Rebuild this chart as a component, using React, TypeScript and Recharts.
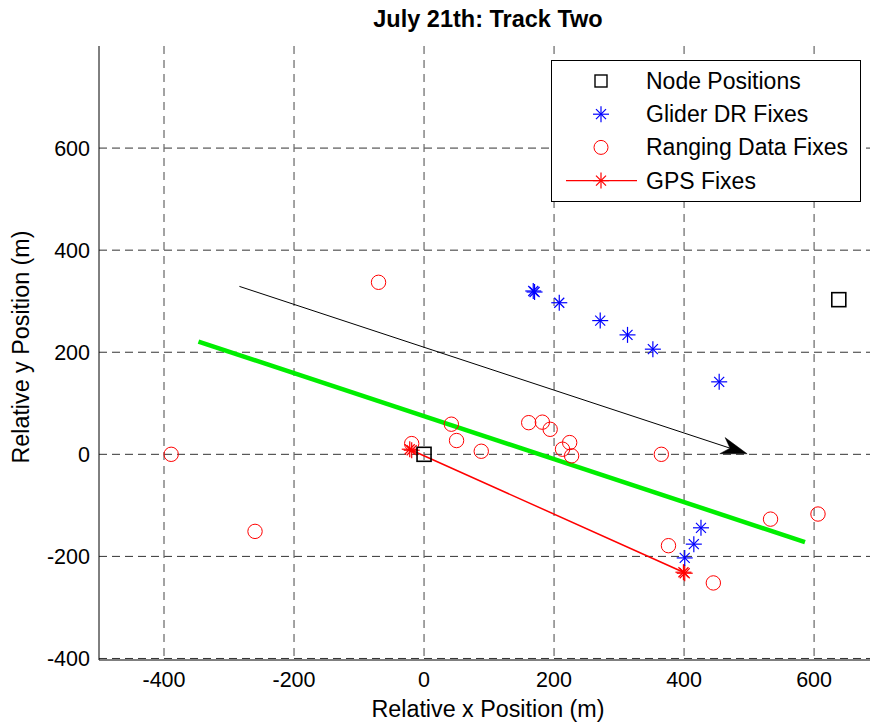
import React from 'react';
import { ScatterChart, Scatter, XAxis, YAxis, CartesianGrid, ReferenceLine } from 'recharts';

const xTicks = [-400, -200, 0, 200, 400, 600];
const yTicks = [-400, -200, 0, 200, 400, 600];

const nodePositions = [
  { x: 0, y: 0 },
  { x: 638, y: 303 },
];

const gliderDR = [
  { x: 168, y: 320 },
  { x: 170, y: 318 },
  { x: 208, y: 297 },
  { x: 271, y: 262 },
  { x: 313, y: 234 },
  { x: 352, y: 206 },
  { x: 454, y: 142 },
  { x: 426, y: -144 },
  { x: 415, y: -176 },
  { x: 401, y: -203 },
];

const rangingFixes = [
  { x: -70, y: 337 },
  { x: -389, y: 0 },
  { x: -260, y: -151 },
  { x: -19, y: 21 },
  { x: 42, y: 59 },
  { x: 50, y: 27 },
  { x: 88, y: 6 },
  { x: 161, y: 62 },
  { x: 182, y: 63 },
  { x: 194, y: 49 },
  { x: 224, y: 23 },
  { x: 213, y: 10 },
  { x: 227, y: -3 },
  { x: 365, y: 0 },
  { x: 533, y: -127 },
  { x: 606, y: -117 },
  { x: 376, y: -179 },
  { x: 445, y: -252 },
];

const gpsFixes = [
  { x: -22, y: 10 },
  { x: -19, y: 8 },
  { x: 399, y: -231 },
  { x: 401, y: -233 },
];

const greenTrack = [
  { x: -347, y: 221 },
  { x: 586, y: -172 },
];

const arrowStart = { x: -284, y: 329 };
const arrowEnd = { x: 497, y: 1 };

const Star = ({ cx, cy, color }: any) => (
  <g stroke={color} strokeWidth={1.2} fill="none">
    <line x1={cx - 8} y1={cy} x2={cx + 8} y2={cy} />
    <line x1={cx} y1={cy - 8} x2={cx} y2={cy + 8} />
    <line x1={cx - 5} y1={cy - 5} x2={cx + 5} y2={cy + 5} />
    <line x1={cx - 5} y1={cy + 5} x2={cx + 5} y2={cy - 5} />
  </g>
);

const Square = ({ cx, cy }: any) => (
  <rect x={cx - 7} y={cy - 7} width={14} height={14} fill="none" stroke="#000" strokeWidth={1.6} />
);

const Circle = ({ cx, cy }: any) => (
  <circle cx={cx} cy={cy} r={7.2} fill="none" stroke="#ff0000" strokeWidth={1} />
);

const Nothing = () => <g />;

const ArrowShape = (props: any) => {
  const { x1, y1, x2, y2 } = props;
  const dx = x2 - x1;
  const dy = y2 - y1;
  const len = Math.sqrt(dx * dx + dy * dy);
  const ux = dx / len;
  const uy = dy / len;
  const nx = -uy;
  const ny = ux;
  const L = 26;
  const W = 8.5;
  const bx = x2 - L * ux;
  const by = y2 - L * uy;
  const ix = x2 - 18 * ux;
  const iy = y2 - 18 * uy;
  const pts = `${x2},${y2} ${bx + W * nx},${by + W * ny} ${ix},${iy} ${bx - W * nx},${by - W * ny}`;
  return (
    <g>
      <line x1={x1} y1={y1} x2={ix} y2={iy} stroke="#000" strokeWidth={1} />
      <polygon points={pts} fill="#000" stroke="#000" strokeWidth={0.5} />
    </g>
  );
};

const legendRows = [
  { label: 'Node Positions', kind: 'square' },
  { label: 'Glider DR Fixes', kind: 'blueStar' },
  { label: 'Ranging Data Fixes', kind: 'circle' },
  { label: 'GPS Fixes', kind: 'gps' },
];

export default function App() {
  const font = '"Liberation Sans", Arial, Helvetica, sans-serif';
  return (
    <div style={{ position: 'absolute', left: 0, top: 0, width: 870, height: 726, background: '#fff', fontFamily: font }}>
      <ScatterChart width={870} height={726} margin={{ top: 46, right: 0, bottom: 6, left: 39 }}>
        <CartesianGrid
          horizontal={true}
          vertical={false}
          horizontalValues={yTicks}
          stroke="#333"
          strokeDasharray="8 5"
        />
        <CartesianGrid
          horizontal={false}
          vertical={true}
          verticalValues={xTicks}
          stroke="#666"
          strokeWidth={1.2}
          strokeDasharray="8 6"
        />
        <XAxis
          type="number"
          dataKey="x"
          domain={[-500, 686]}
          ticks={xTicks}
          allowDataOverflow
          height={60}
          tickLine={false}
          tickSize={0}
          tickMargin={12}
          axisLine={{ stroke: '#000', strokeWidth: 1 }}
          tick={{ fontSize: 21.5, fill: '#000', fontFamily: font }}
        />
        <YAxis
          type="number"
          dataKey="y"
          domain={[-403, 800]}
          ticks={yTicks}
          allowDataOverflow
          width={60}
          tickLine={false}
          tickSize={0}
          tickMargin={9}
          axisLine={{ stroke: '#000', strokeWidth: 1 }}
          tick={{ fontSize: 21.5, fill: '#000', fontFamily: font }}
        />
        <ReferenceLine
          segment={[arrowStart, arrowEnd]}
          stroke="#000"
          shape={ArrowShape}
          ifOverflow="visible"
        />
        <Scatter
          data={greenTrack}
          line={{ stroke: '#00ee00', strokeWidth: 4.5 }}
          lineType="joint"
          shape={Nothing}
          isAnimationActive={false}
        />
        <Scatter
          data={gpsFixes}
          line={{ stroke: '#ff0000', strokeWidth: 1.5 }}
          lineType="joint"
          shape={(p: any) => <Star {...p} color="#ff0000" />}
          isAnimationActive={false}
        />
        <Scatter data={rangingFixes} shape={Circle} isAnimationActive={false} />
        <Scatter data={gliderDR} shape={(p: any) => <Star {...p} color="#0000ff" />} isAnimationActive={false} />
        <Scatter data={nodePositions} shape={Square} isAnimationActive={false} />
      </ScatterChart>
      <svg
        width={870}
        height={726}
        style={{ position: 'absolute', left: 0, top: 0, pointerEvents: 'none' }}
        fontFamily={font}
      >
        <text x={488} y={27} textAnchor="middle" fontWeight="bold" fontSize={23.5} fill="#000">
          July 21th: Track Two
        </text>
        <text x={488} y={717} textAnchor="middle" fontSize={23.3} fill="#000">
          Relative x Position (m)
        </text>
        <text x={29} y={347} textAnchor="middle" fontSize={23.3} fill="#000" transform="rotate(-90, 29, 347)">
          Relative y Position (m)
        </text>
        <g>
          <rect x={551.5} y={60.5} width={309} height={141} fill="#fff" stroke="#000" strokeWidth={1} />
          {legendRows.map((r, i) => {
            const cy = 81 + i * 33.2;
            return (
              <g key={r.label}>
                {r.kind === 'square' && (
                  <rect x={595} y={cy - 6} width={12} height={12} fill="none" stroke="#000" strokeWidth={1.4} />
                )}
                {r.kind === 'blueStar' && <Star cx={601} cy={cy} color="#0000ff" />}
                {r.kind === 'circle' && <circle cx={601} cy={cy} r={7} fill="none" stroke="#ff0000" strokeWidth={1} />}
                {r.kind === 'gps' && (
                  <g>
                    <line x1={566} y1={cy} x2={637} y2={cy} stroke="#ff0000" strokeWidth={1.2} />
                    <Star cx={601} cy={cy} color="#ff0000" />
                  </g>
                )}
                <text x={646} y={cy + 8} fontSize={23} fill="#000">
                  {r.label}
                </text>
              </g>
            );
          })}
        </g>
      </svg>
    </div>
  );
}
